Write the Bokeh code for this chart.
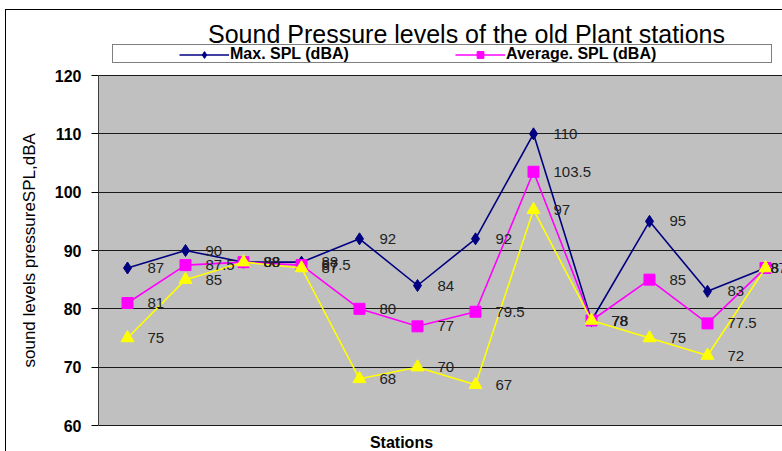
from bokeh.plotting import figure
from bokeh.models import (Legend, LegendItem, Label, ColumnDataSource, FixedTicker,
                          Range1d, BoxAnnotation, Title)
from bokeh.core.properties import value
from bokeh.embed import file_html
from bokeh.resources import INLINE

# ---- data ----
stations = list(range(1, 13))
max_spl = [87, 90, 88, 88, 92, 84, 92, 110, 78, 95, 83, 87]
avg_spl = [81, 87.5, 88, 87.5, 80, 77, 79.5, 103.5, 78, 85, 77.5, 87]
min_spl = [75, 85, 88, 87, 68, 70, 67, 97, 78, 75, 72, 87]
y_ticks = [60, 70, 80, 90, 100, 110, 120]
title_text = "Sound Pressure levels of the old Plant stations"
x_title = "Stations"
y_title = "sound levels pressureSPL,dBA"
names = ["Max. SPL (dBA)", "Average. SPL (dBA)", "Min. SPL (dBA)"]

FONT = "Liberation Sans"

# ---- layout (page pixels) ----
HOST_X, HOST_Y = 5, 9          # outer chart border position
CANVAS_X, CANVAS_Y = HOST_X + 1, HOST_Y + 1
FRAME_LEFT = 97
FRAME_RIGHT = 782
FRAME_TOP = CANVAS_Y
FRAME_BOTTOM = 451
PLOT_TOP, PLOT_BOTTOM = 75, 425   # where 120 and 60 sit
STEP = 58.0                       # pixels per station
Y_LO, Y_HI = y_ticks[0], y_ticks[-1]
ppu = (PLOT_BOTTOM - PLOT_TOP) / (Y_HI - Y_LO)
y_start = Y_LO - (FRAME_BOTTOM - PLOT_BOTTOM) / ppu
y_end = Y_HI + (PLOT_TOP - FRAME_TOP) / ppu
fw = FRAME_RIGHT - FRAME_LEFT
fh = FRAME_BOTTOM - FRAME_TOP

p = figure(frame_width=fw, frame_height=fh,
           min_border_left=FRAME_LEFT - CANVAS_X, min_border_right=0,
           min_border_top=0, min_border_bottom=0,
           x_range=Range1d(0.5, 0.5 + fw / STEP), y_range=Range1d(y_start, y_end),
           x_axis_location=None, title=None,
           output_backend="svg", toolbar_location=None,
           background_fill_color="white", border_fill_color="white",
           outline_line_color=None)
p.styles = {"margin-left": f"{HOST_X}px", "margin-top": f"{HOST_Y}px",
            "border-left": "1px solid black", "border-top": "1px solid black"}

# plot area (grey)
p.add_layout(BoxAnnotation(bottom=Y_LO, top=Y_HI, fill_color="#C0C0C0", fill_alpha=1,
                           line_color="#808080", line_width=1, level="image"))

p.xgrid.visible = False
p.ygrid.grid_line_color = "#1a1a1a"
p.ygrid.grid_line_width = 1
p.yaxis.ticker = FixedTicker(ticks=y_ticks)
p.yaxis.bounds = (Y_LO, Y_HI)
p.yaxis.minor_tick_line_color = None
p.yaxis.major_tick_out = 7
p.yaxis.major_tick_in = 0
p.yaxis.major_tick_line_color = "black"
p.yaxis.axis_line_color = "#404040"
p.yaxis.major_label_standoff = 10
p.yaxis.major_label_text_font = FONT
p.yaxis.major_label_text_font_style = "bold"
p.yaxis.major_label_text_font_size = "16px"
p.yaxis.major_label_text_color = "black"

# y axis title, centred on the grey plot area (frame is taller than it)
label_len_est = 234  # approx length of the rotated text in px
p.add_layout(Title(text=y_title, align="left", vertical_align="middle",
                   offset=FRAME_BOTTOM - ((PLOT_TOP + PLOT_BOTTOM) / 2 + label_len_est / 2),
                   standoff=24, text_font=FONT, text_font_style="normal",
                   text_font_size="17px", text_color="black"), "left")

series = [
    (max_spl, "#000080", "diamond", 12),
    (avg_spl, "#FF00FF", "square", 11),
    (min_spl, "#FFFF00", "triangle", 13),
]

renderers = []
for (vals, color, marker, size), name in zip(series, names):
    src = ColumnDataSource(dict(x=stations, y=vals))
    ln = p.line("x", "y", source=src, line_color=color, line_width=1.6, name=name)
    sc = p.scatter("x", "y", source=src, marker=marker, size=size,
                   fill_color=color, line_color=color)
    renderers.append((ln, sc))

for vals, *_ in series:
    offs = [20] * (len(vals) - 1) + [5]
    lsrc = ColumnDataSource(dict(x=stations, y=vals,
                                 t=[f"{v:g}" for v in vals], xo=offs))
    p.text("x", "y", text="t", source=lsrc, x_offset="xo",
           text_baseline="middle", text_align="left",
           text_font=value(FONT), text_font_size="15px", text_color="#222222")

def fx(px):
    return px - FRAME_LEFT

def fy(py):
    return FRAME_BOTTOM - py

# legend box (border)
dummy = p.line(x=[], y=[], line_alpha=0)
box = Legend(items=[LegendItem(label=" ", renderers=[dummy])],
             location=(fx(111), fy(63)), orientation="horizontal",
             padding=0, margin=0, spacing=0, glyph_width=0, glyph_height=17,
             label_width=658, label_height=17, label_standoff=0,
             label_text_alpha=0, border_line_color="black", border_line_width=1,
             background_fill_color="white", background_fill_alpha=1)
p.add_layout(box)

leg = Legend(items=[LegendItem(label=names[0], renderers=list(renderers[0])),
                    LegendItem(label=names[1], renderers=list(renderers[1]))],
             location=(fx(178), fy(63)), orientation="horizontal",
             padding=0, margin=0, spacing=0, glyph_width=50, glyph_height=17,
             label_width=225, label_height=17, label_standoff=1,
             label_text_font=FONT, label_text_font_style="bold",
             label_text_font_size="16px", label_text_color="black",
             border_line_color=None, background_fill_alpha=0)
p.add_layout(leg)

p.add_layout(Label(x=fx(465), y=fy(33), x_units="screen", y_units="screen",
                   text=title_text, text_align="center", text_baseline="middle",
                   text_font=FONT, text_font_size="25px", text_color="black"))
p.add_layout(Label(x=fx(400), y=fy(442), x_units="screen", y_units="screen",
                   text=x_title, text_align="center", text_baseline="middle",
                   text_font=FONT, text_font_size="16px", text_font_style="bold",
                   text_color="black"))

open("out.html", "w").write(file_html(p, INLINE))
